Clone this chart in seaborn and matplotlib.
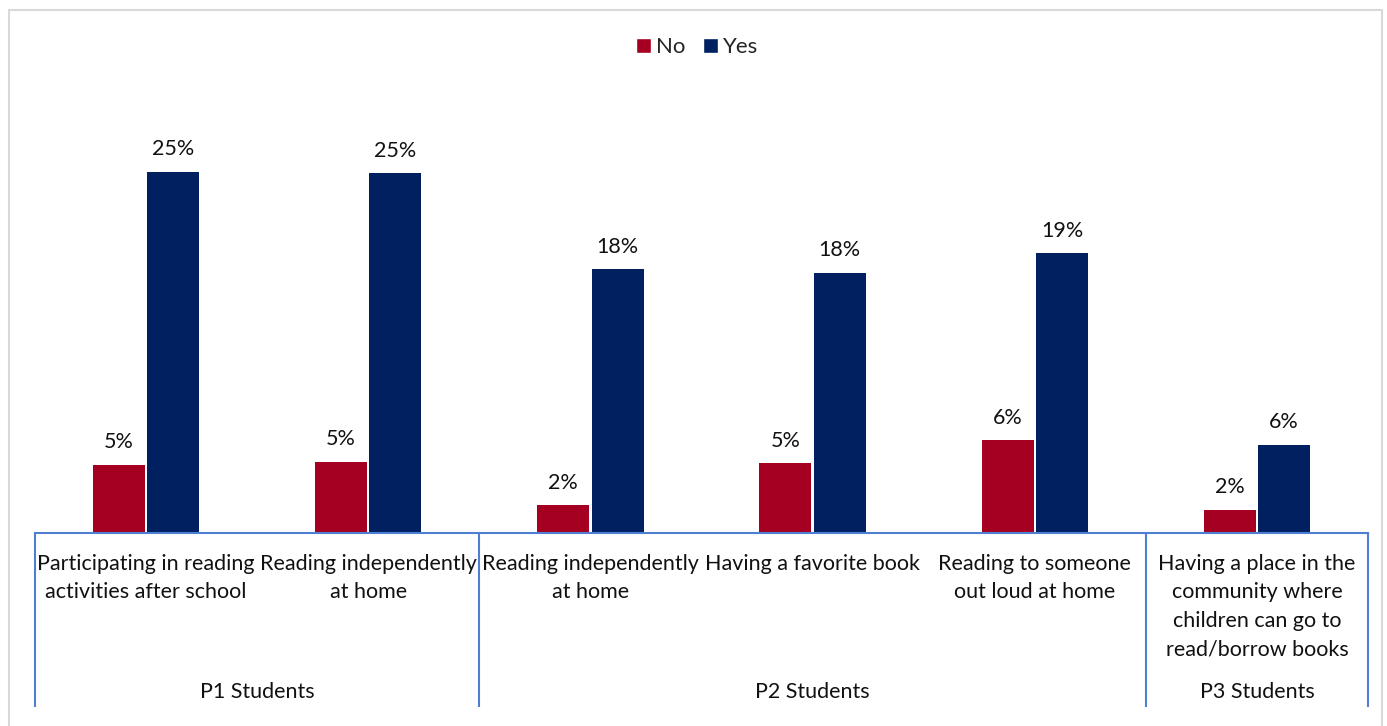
import matplotlib
matplotlib.use("Agg")
import matplotlib.pyplot as plt
import matplotlib.transforms as mtransforms
from matplotlib.patches import Rectangle, Patch
import seaborn as sns
import pandas as pd

# Survey items, grouped by student grade
groups = ["P1 Students", "P1 Students", "P2 Students", "P2 Students", "P2 Students", "P3 Students"]
items = [
    "Participating in reading\nactivities after school",
    "Reading independently\nat home",
    "Reading independently\nat home",
    "Having a favorite book",
    "Reading to someone\nout loud at home",
    "Having a place in the\ncommunity where\nchildren can go to\nread/borrow books",
]
no_values = [4.7, 4.9, 1.9, 4.8, 6.4, 1.6]
yes_values = [24.9, 24.8, 18.2, 17.95, 19.3, 6.1]
responses = ["No", "Yes"]

RED = "#A50021"
NAVY = "#002060"
AXIS_BLUE = "#4F7FD0"
FONT = "Lato"

keys = [f"{g}|{i}|{k}" for k, (g, i) in enumerate(zip(groups, items))]
df = pd.DataFrame({
    "key": keys * 2,
    "response": ["No"] * len(keys) + ["Yes"] * len(keys),
    "value": no_values + yes_values,
})

sns.set_theme(style="white")
plt.rcParams["font.family"] = [FONT, "DejaVu Sans"]

W, H = 1387, 726
fig = plt.figure(figsize=(W / 100, H / 100), dpi=100)
ax_left, ax_right = 35, 1368
ax_bottom, ax_top = 533, 98
ax = fig.add_axes([ax_left / W, 1 - ax_bottom / H, (ax_right - ax_left) / W, (ax_bottom - ax_top) / H])

sns.barplot(
    data=df, x="key", y="value", hue="response", order=keys, hue_order=responses,
    palette={"No": RED, "Yes": NAVY}, saturation=1, width=0.49, gap=0.045,
    linewidth=0, errorbar=None, legend=False, ax=ax,
)

ax.set_xlim(-0.5, len(keys) - 0.5)
ax.set_ylim(0, 30)
ax.set_xlabel("")
ax.set_ylabel("")
ax.set_yticks([])
for side in ["top", "right", "left"]:
    ax.spines[side].set_visible(False)
ax.spines["bottom"].set_color(AXIS_BLUE)
ax.spines["bottom"].set_linewidth(1.5)

# Value labels above bars
for container in ax.containers:
    ax.bar_label(container, labels=[f"{v:.0f}%" for v in container.datavalues],
                 padding=9, fontsize=15.5, color="#111111", family=[FONT, "DejaVu Sans"])

# First level of category labels
ax.set_xticks(range(len(keys)))
ax.set_xticklabels(items, fontsize=15.5, color="#111111", linespacing=1.53, va="top")
ax.tick_params(axis="x", length=0, pad=15)

# Second level: grade groups with separators
trans = mtransforms.blended_transform_factory(ax.transData, ax.transAxes)
line_bottom = -(707 - ax_bottom) / (ax_bottom - ax_top)
label_y = -(692 - ax_bottom) / (ax_bottom - ax_top)
bounds = []
start = 0
for k in range(1, len(groups) + 1):
    if k == len(groups) or groups[k] != groups[start]:
        bounds.append((start, k - 1, groups[start]))
        start = k
for a, b, name in bounds:
    ax.text((a + b) / 2, label_y, name, transform=trans, ha="center", va="center",
            fontsize=15.5, color="#111111")
edges = [-0.5] + [b + 0.5 for _, b, _ in bounds]
for x in edges:
    ax.plot([x, x], [0, line_bottom], transform=trans, color=AXIS_BLUE, lw=1.5,
            clip_on=False, solid_capstyle="butt")

# Legend
handles = [Patch(facecolor=RED, label="No"), Patch(facecolor=NAVY, label="Yes")]
fig.legend(handles=handles, loc="center", bbox_to_anchor=(0.5 + 4 / W, 1 - 47 / H), ncol=2,
           frameon=False, fontsize=16, handlelength=0.65, handleheight=0.65,
           handletextpad=0.25, columnspacing=0.8)

# Chart border
fig.patches.append(Rectangle((9 / W, -0.05), (1382 - 9) / W, 1.05 - 10 / H,
                             transform=fig.transFigure, fill=False,
                             edgecolor="#D9D9D9", linewidth=1.5))

fig.savefig("out.png", dpi=100, facecolor="white")
